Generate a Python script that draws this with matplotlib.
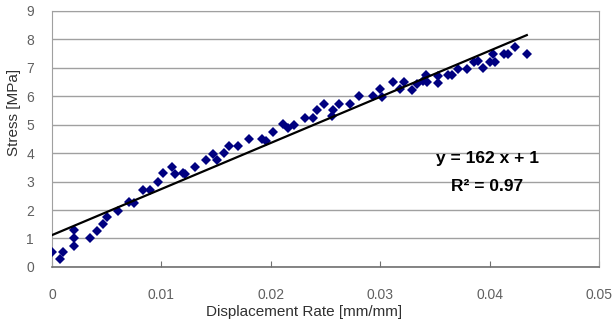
import matplotlib.pyplot as plt
import numpy as np

plt.rcParams['font.family'] = ['Liberation Sans', 'DejaVu Sans']

# measured points (displacement rate, stress)
rate = [0, 0.0007, 0.001, 0.002, 0.002, 0.002, 0.0035, 0.0041, 0.0047, 0.005,
        0.006, 0.007, 0.0075, 0.0083, 0.009, 0.0097, 0.0101, 0.011, 0.0112, 0.0120,
        0.0122, 0.0131, 0.0141, 0.0147, 0.0151, 0.0157, 0.0162, 0.0170, 0.0180, 0.0192,
        0.0196, 0.0202, 0.0211, 0.0216, 0.0221, 0.0231, 0.0239, 0.0242, 0.0249, 0.0256,
        0.0257, 0.0262, 0.0272, 0.0281, 0.0293, 0.0300, 0.0302, 0.0312, 0.0318, 0.0322,
        0.0329, 0.0334, 0.0339, 0.0342, 0.0343, 0.0353, 0.0353, 0.0362, 0.0366, 0.0371,
        0.0379, 0.0386, 0.0389, 0.0394, 0.0400, 0.0403, 0.0405, 0.0413, 0.0417, 0.0423,
        0.0434]
stress = [0.53, 0.28, 0.53, 1.31, 1.02, 0.74, 1.02, 1.27, 1.52, 1.77,
          1.98, 2.3, 2.26, 2.72, 2.72, 3.0, 3.29, 3.53, 3.25, 3.32,
          3.25, 3.5, 3.75, 3.96, 3.75, 4.0, 4.24, 4.24, 4.49, 4.49,
          4.42, 4.73, 5.02, 4.88, 4.98, 5.23, 5.23, 5.51, 5.72, 5.30,
          5.51, 5.72, 5.72, 6.0, 6.0, 6.25, 5.97, 6.5, 6.25, 6.5,
          6.22, 6.43, 6.54, 6.75, 6.5, 6.71, 6.47, 6.75, 6.75, 6.96,
          6.96, 7.21, 7.24, 7.0, 7.21, 7.49, 7.21, 7.49, 7.49, 7.74,
          7.49]

# linear trend line
fit_slope = 162
fit_intercept = 1.12
fit_label = "y = 162 x + 1"
r2_label = "R\u00b2 = 0.97"

x_ticks = [0, 0.01, 0.02, 0.03, 0.04, 0.05]
x_tick_labels = ["0", "0.01", "0.02", "0.03", "0.04", "0.05"]
y_ticks = list(range(10))

fig = plt.figure(figsize=(6.15, 3.22), dpi=100)
ax = fig.add_axes([0.0846, 0.171, 0.8894, 0.795])

ax.set_xlim(0, 0.05)
ax.set_ylim(0, 9)
ax.set_yticks(y_ticks)
ax.set_xticks(x_ticks)
ax.set_xticklabels(x_tick_labels)
ax.grid(axis='y', color='#a0a0a0', lw=1.0)
ax.set_axisbelow(True)

ax.plot(rate, stress, 'D', color='#000080', markersize=5.3, markeredgewidth=0, zorder=3)

fx = np.array([0, max(rate)])
ax.plot(fx, fit_slope * fx + fit_intercept, color='black', lw=1.6, zorder=4)

ax.text(0.0398, 3.8, fit_label, ha='center', va='center', fontsize=12.5,
        fontweight='bold', color='black')
ax.text(0.0398, 2.82, r2_label, ha='center', va='center', fontsize=12.5,
        fontweight='bold', color='black')

for side in ['top', 'right', 'left']:
    ax.spines[side].set_color('#a0a0a0')
ax.spines['bottom'].set_color('#707070')
ax.spines['bottom'].set_linewidth(1.2)

ax.tick_params(axis='x', direction='in', length=4, color='#707070', pad=15,
               labelsize=10, labelcolor='#606060')
ax.tick_params(axis='y', length=0, pad=13, labelsize=10, labelcolor='#606060')

ax.set_xlabel("Displacement Rate [mm/mm]", fontsize=11, color='#303030')
ax.set_ylabel("Stress [MPa]", fontsize=11, color='#303030')
ax.xaxis.set_label_coords(0.46, -0.148)
ax.yaxis.set_label_coords(-0.057, 0.605)

fig.savefig("out.png", dpi=100)
